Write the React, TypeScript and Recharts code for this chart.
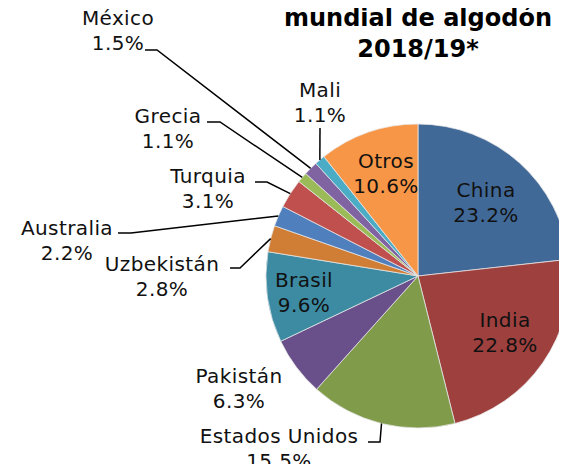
import { PieChart, Pie, Cell } from "recharts";

const COUNTRIES = [
  "China",
  "India",
  "Estados Unidos",
  "Pakistán",
  "Brasil",
  "Uzbekistán",
  "Australia",
  "Turquia",
  "Grecia",
  "México",
  "Mali",
  "Otros",
];
const SHARES = [23.2, 22.8, 15.5, 6.3, 9.6, 2.8, 2.2, 3.1, 1.1, 1.5, 1.1, 10.6];
const TITLE_LINES = ["mundial de algodón", "2018/19*"];

const COLORS = [
  "#416998",
  "#9e403e",
  "#809b4a",
  "#69508a",
  "#3c8ba3",
  "#d07e36",
  "#4f7fbd",
  "#c0504d",
  "#9bbb59",
  "#8064a2",
  "#4bacc6",
  "#f79646",
];

/* ===== label placement, offsets from the pie centre =====
   [textX, firstBaseline, elbowX, elbowY, tailX] (null = no leader) */
const LABEL_LAYOUT: Record<string, (number | null)[]> = {
  China: [68, -79, null, null, null],
  India: [87, 51, null, null, null],
  "Estados Unidos": [-139, 167, -38, 166, -50],
  "Pakistán": [-179, 107, null, null, null],
  Brasil: [-114, 11, null, null, null],
  "Uzbekistán": [-256, -5, -178, -8, -188],
  Australia: [-351, -41, -287, -43, -300],
  Turquia: [-210, -93, -151, -94, -163],
  Grecia: [-250, -153, -198, -154, -211],
  "México": [-300, -251, -261, -226, -273],
  Mali: [-98, -179, -98, -148, -98],
  Otros: [-32, -108, null, null, null],
};

const data = COUNTRIES.map((name, i) => ({ name, value: SHARES[i] }));

const FONT = "'DejaVu Sans', sans-serif";
const LINE_H = 25;

const renderLabel = ({ cx, cy, midAngle, outerRadius, name, value }: any) => {
  const RADIAN = Math.PI / 180;
  const lay = LABEL_LAYOUT[name];
  if (!lay) return null;
  const [tx, ty, ex, ey, tail] = lay;
  const x = cx + (tx as number);
  const y = cy + (ty as number);

  let leader = null;
  if (ex !== null) {
    const sx = cx + outerRadius * Math.cos(-midAngle * RADIAN);
    const sy = cy + outerRadius * Math.sin(-midAngle * RADIAN);
    const pts = [
      [sx, sy],
      [cx + (ex as number), cy + (ey as number)],
      [cx + (tail as number), cy + (ey as number)],
    ];
    leader = (
      <polyline
        points={pts.map((p) => p.join(",")).join(" ")}
        fill="none"
        stroke="#000"
        strokeWidth={1.5}
      />
    );
  }

  return (
    <g>
      {leader}
      <text
        x={x}
        y={y}
        textAnchor="middle"
        fill="#111"
        fontSize={20}
        letterSpacing={0.4}
        fontFamily={FONT}
      >
        <tspan x={x} y={y}>
          {name}
        </tspan>
        <tspan x={x} y={y + LINE_H}>
          {`${value.toFixed(1)}%`}
        </tspan>
      </text>
    </g>
  );
};

export default function App() {
  return (
    <div style={{ margin: -8, width: 567, height: 472, background: "#fff" }}>
      <PieChart
        width={567}
        height={472}
        margin={{ top: 0, right: 0, bottom: 0, left: 0 }}
      >
        <text
          x={418}
          y={26}
          textAnchor="middle"
          fontFamily={FONT}
          fontWeight="bold"
          fontSize={24}
          fill="#000"
        >
          <tspan x={418} y={26}>
            {TITLE_LINES[0]}
          </tspan>
          <tspan x={418} y={57}>
            {TITLE_LINES[1]}
          </tspan>
        </text>
        <Pie
          data={data}
          dataKey="value"
          nameKey="name"
          cx={418}
          cy={276}
          outerRadius={152}
          startAngle={90}
          endAngle={-270}
          stroke="#e8e8e8"
          strokeWidth={0.75}
          labelLine={false}
          label={renderLabel}
          isAnimationActive={false}
        >
          {data.map((_, index) => (
            <Cell key={index} fill={COLORS[index % COLORS.length]} />
          ))}
        </Pie>
      </PieChart>
    </div>
  );
}
